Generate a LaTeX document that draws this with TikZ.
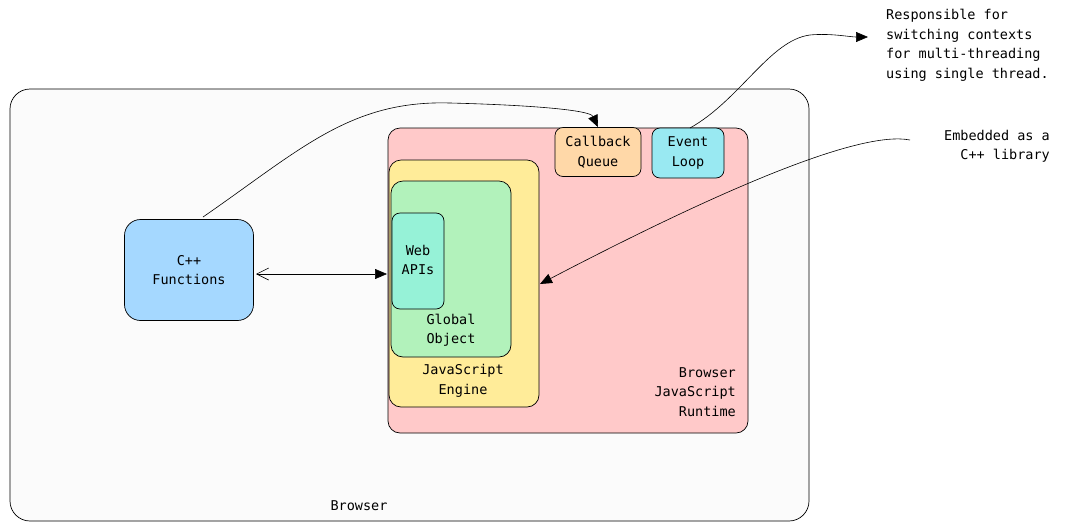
\documentclass[tikz,border=0pt]{standalone}
\usepackage{fontspec}
\setmainfont{DejaVu Sans Mono}
\usetikzlibrary{arrows.meta}
\begin{document}
\begin{tikzpicture}[x=1pt,y=-1pt,
  box/.style={draw=black,line width=0.7pt,rounded corners=12pt},
  lbl/.style={font=\fontsize{13.5}{19.5}\selectfont,align=center,inner sep=0pt},
  arr/.style={line width=0.6pt,-{Triangle[length=12pt,width=10pt]}}]
\useasboundingbox (0,0) rectangle (1071,531);
\draw[box,fill=gray!3,rounded corners=20pt] (10,89) rectangle (809,521);
\node[lbl] (browser) at (359,506) {Browser};
\draw[box,fill={rgb,255:red,255;green,201;blue,201}] (388,128) rectangle (748,433);
\node[lbl,align=right,anchor=east] (rt) at (736,392) {Browser\\JavaScript\\Runtime};
\draw[box,fill={rgb,255:red,255;green,236;blue,153}] (389,160) rectangle (539,407);
\node[lbl] (eng) at (463,381) {JavaScript\\Engine};
\node (engB) at (540,284) {};
\draw[box,fill={rgb,255:red,178;green,242;blue,187}] (391,181) rectangle (511,357);
\node[lbl] (go) at (451,330) {Global\\Object};
\draw[box,fill={rgb,255:red,150;green,242;blue,215},rounded corners=8pt] (392,213) rectangle (444,309);
\node[lbl] (web) at (418,260) {Web\\APIs};
\node[box,fill={rgb,255:red,255;green,216;blue,168},rounded corners=8pt,minimum width=86pt,minimum height=49pt,lbl,draw] (cq) at (598,152) {Callback\\Queue};
\node[box,fill={rgb,255:red,153;green,233;blue,242},rounded corners=8pt,minimum width=72pt,minimum height=50pt,lbl,draw] (el) at (688,153) {Event\\Loop};
\node[box,fill={rgb,255:red,165;green,216;blue,255},rounded corners=16pt,minimum width=129pt,minimum height=101pt,lbl,draw] (cpp) at (189,270) {C++\\Functions};
\coordinate (webL) at (387,274);
\draw[line width=0.6pt,{Straight Barb[length=12pt,width=12pt]}-{Triangle[length=12pt,width=10pt]}] (256,274) -- (webL);
\draw[arr] (203,217) .. controls (300,150) and (350,100) .. (450,103) .. controls (530,105) and (590,110) .. (cq.north);
\node[lbl,align=left,anchor=north west] (resp) at (886,9) {Responsible for\\switching contexts\\for multi-threading\\using single thread.};
\coordinate (respL) at (868,37);
\draw[arr] (690,128) .. controls (740,100) and (770,40) .. (810,35) .. controls (830,33) and (850,37) .. (respL);
\node[lbl,align=right,anchor=north east] (emb) at (1050,130) {Embedded as a\\C++ library};
\coordinate (embL) at (910,140);
\draw[arr] (embL) .. controls (860,130) and (720,190) .. (engB.center);
\end{tikzpicture}
\end{document}
